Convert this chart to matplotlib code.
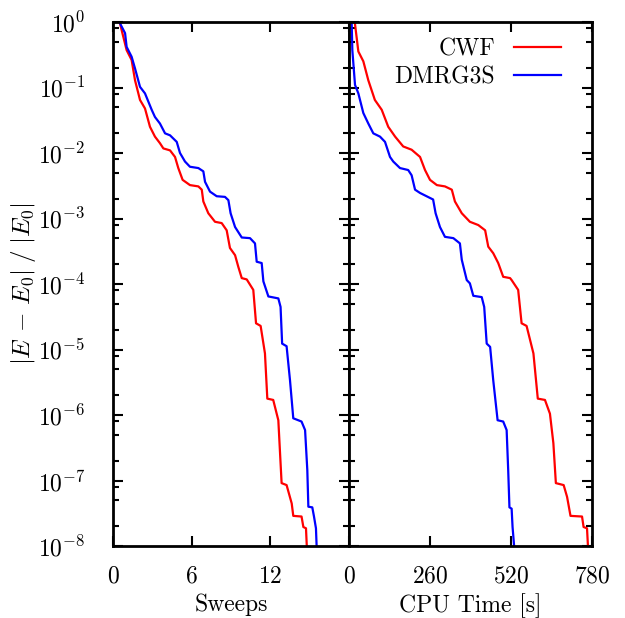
import numpy as np
import matplotlib
matplotlib.use("Agg")
import matplotlib.pyplot as plt
from matplotlib.ticker import LogLocator, FixedLocator, NullFormatter

plt.rcParams["font.family"] = "cmr10"
plt.rcParams["mathtext.fontset"] = "cm"
plt.rcParams["axes.formatter.use_mathtext"] = True
plt.rcParams["axes.unicode_minus"] = False

# log10 of relative error
sweeps_cwf = [0.53, 1.04, 1.42, 1.68, 2.06, 2.44, 2.82, 3.2, 3.58, 3.84, 4.35, 4.73, 4.98, 5.31,
              5.87, 6.51, 6.77, 6.89, 7.27, 7.78, 8.29, 8.67, 8.92, 9.31, 9.56, 9.82, 10.2, 10.7,
              10.91, 11.26, 11.59, 11.77, 12.22, 12.61, 12.86, 13.24, 13.63, 13.75, 14.38, 14.52,
              14.72, 14.78, 14.8]
err_sw_cwf = [-0.02, -0.43, -0.58, -0.89, -1.19, -1.32, -1.6, -1.75, -1.85, -1.93, -1.96, -2.06,
              -2.23, -2.41, -2.49, -2.51, -2.56, -2.74, -2.92, -3.05, -3.07, -3.18, -3.45, -3.56,
              -3.74, -3.91, -3.93, -4.09, -4.6, -4.64, -5.06, -5.75, -5.77, -6.08, -7.04, -7.07,
              -7.35, -7.54, -7.55, -7.71, -7.73, -8.0, -8.2]
sweeps_dmrg = [0.53, 0.92, 1.04, 1.42, 1.68, 2.06, 2.44, 2.95, 3.2, 3.58, 3.97, 4.35, 4.86, 5.11,
               5.49, 5.87, 6.51, 6.89, 7.02, 7.4, 7.91, 8.54, 8.8, 8.97, 9.31, 9.82, 10.45, 10.83,
               10.96, 11.34, 11.47, 11.85, 12.61, 12.78, 12.9, 13.24, 13.5, 13.75, 14.38, 14.65,
               14.82, 14.9, 15.2, 15.33, 15.48, 15.53, 15.55]
err_sw_dmrg = [-0.02, -0.17, -0.38, -0.53, -0.71, -0.99, -1.09, -1.34, -1.45, -1.55, -1.7, -1.73,
               -1.83, -2.0, -2.13, -2.21, -2.23, -2.28, -2.44, -2.59, -2.66, -2.67, -2.72, -2.92,
               -3.13, -3.29, -3.3, -3.38, -3.66, -3.68, -3.96, -4.19, -4.22, -4.35, -4.91, -4.95,
               -5.47, -6.05, -6.1, -6.23, -6.84, -7.4, -7.41, -7.55, -7.73, -8.0, -8.2]

time_cwf = [19, 30, 46, 62, 83, 105, 126, 148, 174, 201, 228, 244, 260, 282, 308, 330, 340, 362,
            388, 415, 437, 447, 463, 479, 495, 517, 522, 543, 554, 570, 592, 606, 629, 645, 656,
            664, 689, 700, 711, 748, 753, 764, 767, 768]
err_t_cwf = [-0.02, -0.45, -0.6, -0.89, -1.19, -1.34, -1.6, -1.75, -1.9, -1.95, -2.06, -2.26,
             -2.41, -2.49, -2.51, -2.56, -2.74, -2.92, -3.05, -3.1, -3.18, -3.43, -3.53, -3.68,
             -3.89, -3.91, -3.94, -4.09, -4.6, -4.64, -5.06, -5.75, -5.77, -5.98, -6.43, -7.04,
             -7.07, -7.25, -7.54, -7.55, -7.71, -7.73, -8.0, -8.2]
time_dmrg = [8.6, 10.7, 19.3, 30, 46, 62, 78, 99.5, 115.6, 131.6, 142, 163.7, 190, 201, 212, 228,
             249, 270, 278, 292, 308, 335, 356, 362, 378, 388, 399, 426, 434, 442, 453, 463, 477,
             495, 506, 511, 515, 522, 525, 530, 531]
err_t_dmrg = [-0.02, -0.43, -0.96, -1.09, -1.39, -1.55, -1.7, -1.75, -1.83, -2.06, -2.13, -2.23,
              -2.26, -2.34, -2.56, -2.61, -2.66, -2.71, -2.92, -3.13, -3.28, -3.3, -3.38, -3.63,
              -3.94, -3.99, -4.18, -4.2, -4.35, -4.91, -4.96, -5.47, -6.08, -6.1, -6.23, -6.84,
              -7.41, -7.43, -7.71, -8.0, -8.2]

RED = "#ff0000"
BLUE = "#0000ff"
FS = 17

fig = plt.figure(figsize=(6.25, 6.18), dpi=100)
ax1 = fig.add_axes([113 / 625, 72 / 618, 236 / 625, 524 / 618])
ax2 = fig.add_axes([349 / 625, 72 / 618, 243 / 625, 524 / 618])

ax1.plot(sweeps_cwf, 10 ** np.array(err_sw_cwf), color=RED, lw=1.6)
ax1.plot(sweeps_dmrg, 10 ** np.array(err_sw_dmrg), color=BLUE, lw=1.6)
ax2.plot(time_cwf, 10 ** np.array(err_t_cwf), color=RED, lw=1.6, label="CWF")
ax2.plot(time_dmrg, 10 ** np.array(err_t_dmrg), color=BLUE, lw=1.6, label="DMRG3S")

for ax in (ax1, ax2):
    ax.set_yscale("log")
    ax.set_ylim(1e-8, 1)
    ax.yaxis.set_major_locator(LogLocator(base=10, numticks=20))
    ax.yaxis.set_minor_locator(LogLocator(base=10, subs=[0.2, 0.5, 0.8], numticks=20))
    ax.yaxis.set_minor_formatter(NullFormatter())
    ax.tick_params(which="both", direction="in", top=True, right=True, labelsize=FS)
    ax.tick_params(which="major", length=7, width=1.5)
    ax.tick_params(which="minor", length=4, width=1.5)
    ax.tick_params(axis="x", which="major", pad=14)
    ax.tick_params(axis="y", which="major", pad=20)
    for s in ax.spines.values():
        s.set_linewidth(2)

ax1.set_xlim(0, 18)
ax1.xaxis.set_major_locator(FixedLocator([0, 6, 12]))
ax2.set_xlim(0, 780)
ax2.xaxis.set_major_locator(FixedLocator([0, 260, 520, 780]))
ax2.tick_params(labelleft=False)

ax1.set_xlabel("Sweeps", fontsize=FS, labelpad=4)
ax2.set_xlabel("CPU Time [s]", fontsize=FS, labelpad=4)
ax1.set_ylabel(r"$|E\,-\,E_0|\;/\;|E_0|$", fontsize=FS + 1, labelpad=0)

ax2.legend(loc="upper right", bbox_to_anchor=(0.94, 1.0), frameon=False, markerfirst=False,
           fontsize=FS, handlelength=2.0, handletextpad=0.8, borderaxespad=0.3, labelspacing=0.25)

fig.savefig("out.png", dpi=100)
